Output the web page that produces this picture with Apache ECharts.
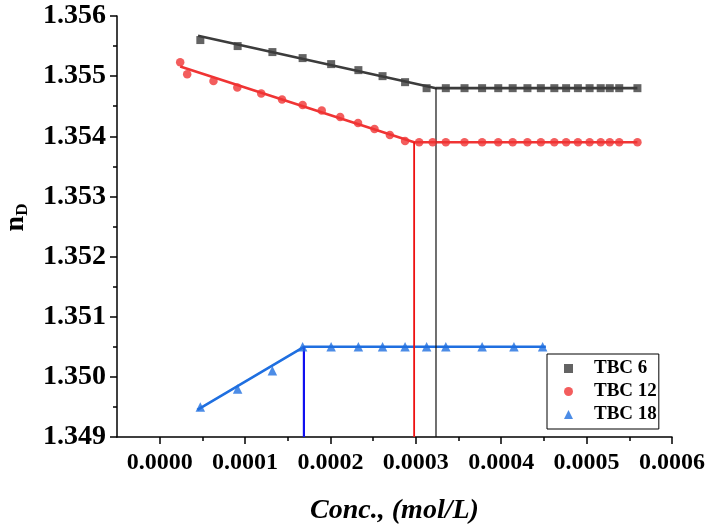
<!DOCTYPE html>
<html>
<head>
<meta charset="utf-8">
<script src="https://cdn.jsdelivr.net/npm/echarts@6/dist/echarts.min.js"></script>
<style>html,body{margin:0;padding:0;background:#fff}#c{width:708px;height:526px}</style>
</head>
<body>
<div id="c"></div>
<script>
// ---- data ----
const seriesNames = ['TBC 6', 'TBC 12', 'TBC 18'];

const conc6 = [0.0000476,0.0000913,0.000132,0.0001674,0.0002008,0.0002327,0.000261,0.0002874,0.0003126,
  0.0003351,0.000357,0.0003776,0.0003965,0.0004134,0.0004307,0.0004464,0.0004622,0.000476,0.0004898,
  0.0005035,0.0005165,0.0005271,0.0005382,0.0005595];
const nD6 = [1.3556,1.3555,1.3554,1.3553,1.3552,1.3551,1.3550,1.3549,1.3548,
  1.3548,1.3548,1.3548,1.3548,1.3548,1.3548,1.3548,1.3548,1.3548,1.3548,
  1.3548,1.3548,1.3548,1.3548,1.3548];

const conc12 = [0.000024,0.0000322,0.000063,0.0000909,0.0001189,0.0001433,0.0001674,0.0001898,0.0002114,
  0.0002323,0.0002516,0.0002696,0.0002874,0.0003039,0.0003197,
  0.0003351,0.000357,0.0003776,0.0003965,0.0004134,0.0004307,0.0004464,0.0004622,0.000476,0.0004898,
  0.0005035,0.0005165,0.0005271,0.0005382,0.0005595];
const nD12 = [1.35523,1.35503,1.35492,1.35481,1.35471,1.35461,1.35452,1.35443,1.35432,
  1.35422,1.35412,1.35402,1.35392,1.3539,1.3539,
  1.3539,1.3539,1.3539,1.3539,1.3539,1.3539,1.3539,1.3539,1.3539,1.3539,
  1.3539,1.3539,1.3539,1.3539,1.3539];

const conc18 = [0.0000476,0.0000913,0.000132,0.0001674,0.0002008,0.0002327,0.000261,0.0002874,0.0003126,
  0.0003351,0.0003776,0.0004149,0.0004485];
const nD18 = [1.3495,1.3498,1.3501,1.3505,1.3505,1.3505,1.3505,1.3505,1.3505,
  1.3505,1.3505,1.3505,1.3505];

// fitted lines (start, break point, end)
const fitX6 = [0.0000449, 0.0003236, 0.0005595];
const fitY6 = [1.35567, 1.3548, 1.3548];
const fitX12 = [0.000024, 0.000298, 0.0005595];
const fitY12 = [1.35516, 1.3539, 1.3539];
const fitX18 = [0.0000441, 0.0001689, 0.0004523];
const fitY18 = [1.34945, 1.3505, 1.3505];

// drop lines at the break points (x, top value)
const dropX = [0.0003236, 0.000298, 0.0001689];
const dropTop = [1.3548, 1.3539, 1.3505];

// axes
const xMin = -0.00005, xMax = 0.0006;
const xMajor = [0, 0.0001, 0.0002, 0.0003, 0.0004, 0.0005, 0.0006];
const xMinor = [0.00005, 0.00015, 0.00025, 0.00035, 0.00045, 0.00055];
const yMin = 1.349, yMax = 1.356, yStep = 0.001;

// ---- build ----
const zip = (xs, ys) => xs.map((x, i) => [x, ys[i]]);
const colors = ['#3c3c3c', '#f03434', '#1f6fe0'];
const dropColors = ['#111111', '#ee1111', '#1010f0'];
const dropWidths = [1.2, 1.8, 2.2];
const symbols = ['rect', 'circle', 'triangle'];
const symSizes = [8, 8.5, 9.5];
const pts = [zip(conc6, nD6), zip(conc12, nD12), zip(conc18, nD18)];
const fits = [zip(fitX6, fitY6), zip(fitX12, fitY12), zip(fitX18, fitY18)];

const font = '"Liberation Serif", "Times New Roman", serif';
const series = [];
for (let i = 0; i < 3; i++) {
  series.push({
    name: 'fit' + i, type: 'line', data: fits[i], showSymbol: false, symbol: 'none',
    lineStyle: { color: colors[i], width: 2.6 }, silent: true, z: 2, animation: false
  });
}
for (let i = 0; i < 3; i++) {
  series.push({
    name: 'drop' + i, type: 'line', data: [[dropX[i], yMin], [dropX[i], dropTop[i]]],
    showSymbol: false, symbol: 'none',
    lineStyle: { color: dropColors[i], width: dropWidths[i] }, silent: true, z: 3, animation: false
  });
}
for (let i = 0; i < 3; i++) {
  series.push({
    name: seriesNames[i], type: 'scatter', data: pts[i], symbol: symbols[i], symbolSize: symSizes[i],
    itemStyle: { color: colors[i] }, z: 4, animation: false
  });
}

const chart = echarts.init(document.getElementById('c'), null, { renderer: 'canvas' });
chart.setOption({
  backgroundColor: '#ffffff',
  animation: false,
  grid: { left: 117, right: 36, top: 16, bottom: 89, containLabel: false, outerBoundsMode: 'none' },
  legend: {
    data: seriesNames.map((n, i) => ({ name: n, icon: symbols[i] })),
    orient: 'vertical', left: 547, top: 354,
    itemWidth: 9, itemHeight: 9, itemGap: 4,
    padding: [5, 2, 5, 17],
    borderColor: '#000', borderWidth: 1,
    textStyle: { fontFamily: font, fontWeight: 'bold', fontSize: 19, color: '#000', padding: [0, 0, 0, 16] }
  },
  xAxis: [{
    type: 'value', min: xMin, max: xMax,
    axisLine: { show: true, onZero: false, lineStyle: { color: '#000', width: 1.5 } },
    axisTick: { show: true, inside: false, length: 7, lineStyle: { color: '#000', width: 1.5 }, customValues: xMajor },
    axisLabel: { show: true, customValues: xMajor, margin: 14, fontFamily: font, fontWeight: 'bold', fontSize: 24, color: '#000',
      formatter: v => v.toFixed(4) },
    splitLine: { show: false },
    name: 'Conc., (mol/L)', nameLocation: 'middle', nameGap: 60,
    nameTextStyle: { fontFamily: font, fontWeight: 'bold', fontStyle: 'italic', fontSize: 28, color: '#000' }
  }, {
    type: 'value', min: xMin, max: xMax, position: 'bottom',
    axisLine: { show: false },
    axisTick: { show: true, inside: false, length: 4, lineStyle: { color: '#000', width: 1.5 }, customValues: xMinor },
    axisLabel: { show: false }, splitLine: { show: false }
  }],
  yAxis: {
    type: 'value', min: yMin, max: yMax, interval: yStep,
    axisLine: { show: true, onZero: false, lineStyle: { color: '#000', width: 1.5 } },
    axisTick: { show: true, inside: false, length: 7, lineStyle: { color: '#000', width: 1.5 } },
    minorTick: { show: true, splitNumber: 2, length: 4, lineStyle: { color: '#000', width: 1.5 } },
    axisLabel: { margin: 11, fontFamily: font, fontWeight: 'bold', fontSize: 28, color: '#000',
      formatter: v => v.toFixed(3) },
    splitLine: { show: false }, minorSplitLine: { show: false },
    name: '{n|n}{d|D}', nameLocation: 'middle', nameRotate: 90, nameGap: 86,
    nameTextStyle: {
      padding: [0, 0, 0, 18],
      rich: {
        n: { fontFamily: font, fontWeight: 'bold', fontSize: 28, color: '#000', lineHeight: 30 },
        d: { fontFamily: font, fontWeight: 'bold', fontSize: 17, color: '#000', verticalAlign: 'bottom', lineHeight: 17 }
      }
    }
  },
  series: series
});
</script>
</body>
</html>
